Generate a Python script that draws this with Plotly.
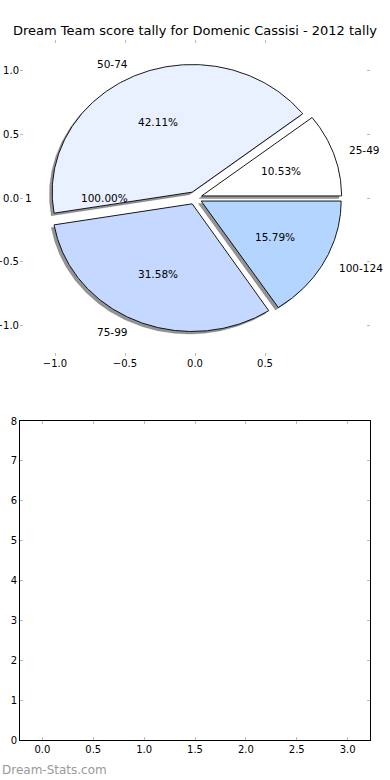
import numpy as np
import plotly.graph_objects as go

# ---- data ----
title = "Dream Team score tally for Domenic Cassisi - 2012 tally"
categories = ["25-49", "50-74", "75-99", "100-124"]
counts = [2, 8, 6, 3]
colors = ["#ffffff", "#e9f0ff", "#c5d8ff", "#b3d5ff"]
explode = [0.05, 0.05, 0.05, 0.05]
hidden_label = "1"
hidden_pct = "100.00%"
pie_xticks = [-1.0, -0.5, 0.0, 0.5]
pie_yticks = [1.0, 0.5, 0.0, -0.5, -1.0]
bar_xticks = [0.0, 0.5, 1.0, 1.5, 2.0, 2.5, 3.0]
bar_yticks = [0, 1, 2, 3, 4, 5, 6, 7, 8]
watermark = "Dream-Stats.com"

FONT = "DejaVu Sans"
fig = go.Figure()

def fmt(v):
    s = f"{v:.1f}"
    return s.replace("-", "\u2212")

total = float(sum(counts))
fracs = [c / total for c in counts]
starts = np.cumsum([0] + fracs[:-1]) * 360.0

def wedge(cx, cy, a0, a1, r=1.0):
    th = np.radians(np.linspace(a0, a1, 200))
    xs = np.concatenate([[cx], cx + r * np.cos(th), [cx]])
    ys = np.concatenate([[cy], cy + r * np.sin(th), [cy]])
    return xs, ys

geo = []
for i, f in enumerate(fracs):
    a0 = starts[i]
    a1 = a0 + f * 360.0
    mid = np.radians((a0 + a1) / 2)
    cx = explode[i] * np.cos(mid)
    cy = explode[i] * np.sin(mid)
    geo.append((a0, a1, mid, cx, cy))

# shadows
for i, (a0, a1, mid, cx, cy) in enumerate(geo):
    xs, ys = wedge(cx - 0.02, cy - 0.02, a0, a1)
    fig.add_trace(go.Scatter(x=xs, y=ys, mode="lines", fill="toself",
                             fillcolor="rgba(0,0,0,0.42)",
                             line=dict(color="rgba(0,0,0,0.3)", width=0.5),
                             hoverinfo="skip", showlegend=False, xaxis="x", yaxis="y"))
# wedges
for i, (a0, a1, mid, cx, cy) in enumerate(geo):
    xs, ys = wedge(cx, cy, a0, a1)
    fig.add_trace(go.Scatter(x=xs, y=ys, mode="lines", fill="toself",
                             fillcolor=colors[i], line=dict(color="black", width=0.9),
                             hoverinfo="skip", showlegend=False, xaxis="x", yaxis="y"))

annotations = []
for i, (a0, a1, mid, cx, cy) in enumerate(geo):
    lx = cx + 1.1 * np.cos(mid)
    ly = cy + 1.1 * np.sin(mid)
    annotations.append(dict(x=lx, y=ly, xref="x", yref="y", text=categories[i],
                            showarrow=False, xanchor="left" if lx > 0 else "right",
                            yanchor="middle", font=dict(family=FONT, size=10.5, color="black")))
    px = cx + 0.6 * np.cos(mid)
    py = cy + 0.6 * np.sin(mid)
    annotations.append(dict(x=px, y=py, xref="x", yref="y", text=f"{fracs[i]*100:.2f}%",
                            showarrow=False, xanchor="center", yanchor="middle",
                            font=dict(family=FONT, size=10.5, color="black")))

# hidden single-slice pie labels
annotations.append(dict(x=-1.15, y=0, xref="x", yref="y", text=hidden_label, showarrow=False,
                        xanchor="right", yanchor="middle", font=dict(family=FONT, size=10.5, color="black")))
annotations.append(dict(x=-0.65, y=0, xref="x", yref="y", text=hidden_pct, showarrow=False,
                        xanchor="center", yanchor="middle", font=dict(family=FONT, size=10.5, color="black")))

H = 780
top, bot = 40, 40
ph = H - top - bot

annotations.append(dict(x=0.5, y=1 + (top - 30) / ph, xref="paper", yref="paper", text=title,
                        showarrow=False, xanchor="center", yanchor="middle",
                        font=dict(family=FONT, size=13, color="black")))
annotations.append(dict(x=-20 / 350, y=-(770 - (H - bot)) / ph, xref="paper", yref="paper",
                        text=watermark, showarrow=False, xanchor="left", yanchor="middle",
                        font=dict(family=FONT, size=12, color="#999999")))

# empty bottom axes trace
fig.add_trace(go.Scatter(x=[], y=[], xaxis="x2", yaxis="y2", showlegend=False))

def ydom(y0, y1):
    return [1 - (y1 - top) / ph, 1 - (y0 - top) / ph]

tickstyle = dict(ticks="inside", ticklen=3, tickwidth=1, tickcolor="#bbbbbb",
                 tickfont=dict(family=FONT, size=10, color="black"),
                 showgrid=False, zeroline=False)

fig.update_layout(
    width=390, height=780,
    margin=dict(l=20, r=20, t=top, b=bot, autoexpand=False),
    paper_bgcolor="white", plot_bgcolor="white",
    showlegend=False,
    annotations=annotations,
    xaxis=dict(domain=[0, 1], range=[-1.25, 1.25], tickvals=pie_xticks,
               ticktext=[fmt(v) for v in pie_xticks], showline=False, mirror="ticks",
               anchor="y", **tickstyle),
    yaxis=dict(domain=ydom(40, 356), range=[-1.238, 1.238], tickvals=pie_yticks,
               ticktext=[fmt(v) for v in pie_yticks], showline=False, mirror="ticks",
               anchor="x", **tickstyle),
    xaxis2=dict(domain=[0, 1], range=[-0.22, 3.22], tickvals=bar_xticks,
                ticktext=[f"{v:.1f}" for v in bar_xticks], showline=True, linecolor="black",
                linewidth=1, mirror="allticks", anchor="y2", **tickstyle),
    yaxis2=dict(domain=ydom(421, 740), range=[0, 8], tickvals=bar_yticks,
                ticktext=[str(v) for v in bar_yticks], showline=True, linecolor="black",
                linewidth=1, mirror="allticks", anchor="x2", **tickstyle),
)

fig.write_html("out.html", config={"displayModeBar": False},
               post_script="document.body.style.margin='0';document.body.style.overflow='hidden';")
